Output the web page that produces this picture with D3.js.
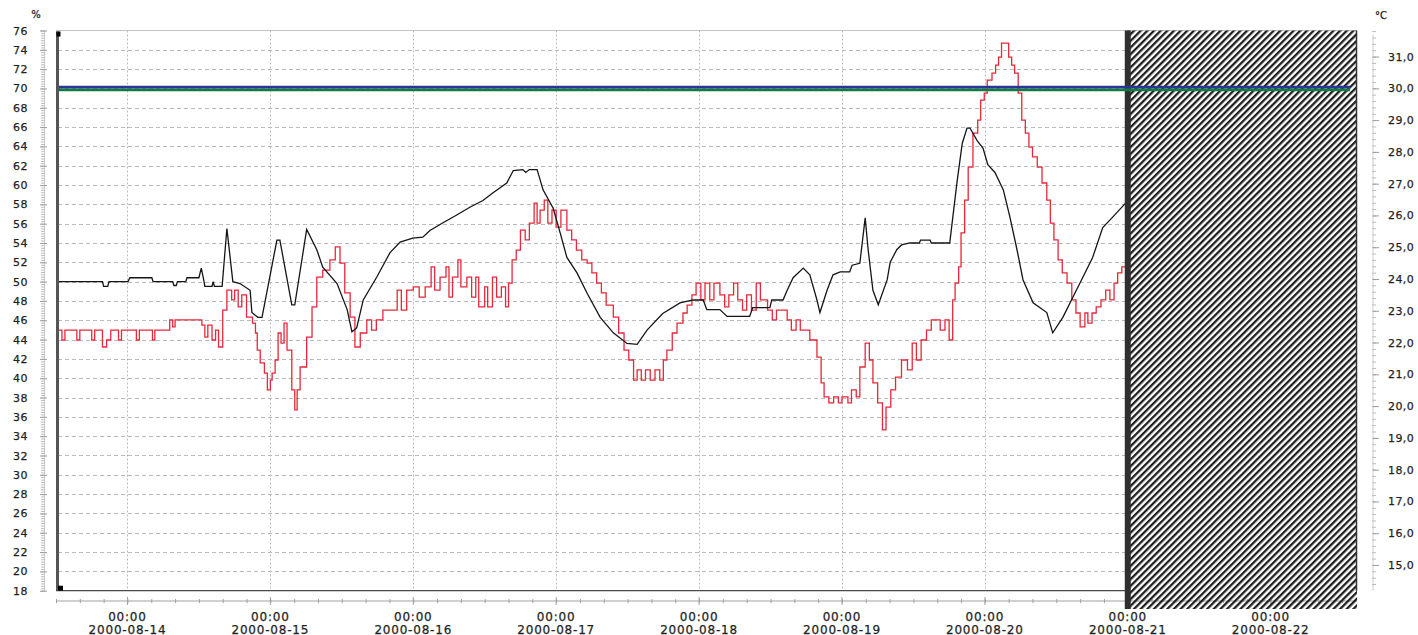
<!DOCTYPE html>
<html>
<head>
<meta charset="utf-8">
<script src="https://cdn.jsdelivr.net/npm/d3@7"></script>
<style>
  html, body { margin: 0; padding: 0; background: #fff; }
  svg { display: block; }
  text { font-family: "DejaVu Sans", "Liberation Sans", sans-serif; fill: #1f1f1f; stroke: #1f1f1f; stroke-width: 0.25px; }
</style>
</head>
<body>
<svg id="chart" width="1418" height="635"></svg>
<script>
// ---- data -------------------------------------------------------------
// days shown on the time axis (each tick is 00:00 of that day)
const dayLabels = ["2000-08-14", "2000-08-15", "2000-08-16", "2000-08-17", "2000-08-18",
                   "2000-08-19", "2000-08-20", "2000-08-21", "2000-08-22"];
const humidityTicks = [18, 20, 22, 24, 26, 28, 30, 32, 34, 36, 38, 40, 42, 44, 46, 48,
                       50, 52, 54, 56, 58, 60, 62, 64, 66, 68, 70, 72, 74, 76];
const temperatureTicks = [15, 16, 17, 18, 19, 20, 21, 22, 23, 24, 25, 26, 27, 28, 29, 30, 31];
const humidityLimit = 70;      // %
const temperatureLimit = 30;   // °C
const lastReading = "2000-08-21T00:00:00Z";

// relative humidity [hours after 2000-08-14 00:00, %]
const humidity = [
  [-11.6, 50.0], [-4.2, 50.0], [-4.0, 49.5], [-3.3, 49.5], [-3.1, 50.0], [0.1, 50.0], [0.4, 50.4],
  [4.1, 50.4], [4.3, 50.0], [7.6, 50.0], [7.8, 49.6], [8.2, 49.6], [8.4, 50.0], [9.8, 50.0],
  [10.0, 50.4], [12.0, 50.4], [12.4, 51.4], [12.8, 50.2], [13.0, 49.5], [14.2, 49.5], [14.4, 50.0],
  [14.6, 49.5], [15.9, 49.5], [16.7, 55.5], [17.7, 50.0], [18.9, 49.8], [20.6, 49.1], [20.9, 46.8],
  [21.9, 46.3], [22.6, 46.3], [25.1, 54.3], [25.6, 54.3], [27.6, 47.6], [28.1, 47.6], [30.1, 55.4],
  [31.8, 53.3], [32.8, 51.5], [35.2, 49.8], [36.9, 47.1], [37.7, 44.8], [38.5, 45.2], [39.6, 48.1],
  [41.9, 50.5], [44.1, 53.0], [45.8, 54.1], [47.9, 54.5], [49.6, 54.6], [50.8, 55.3], [53.0, 56.1],
  [55.3, 56.9], [57.5, 57.7], [59.7, 58.4], [61.4, 59.2], [63.7, 60.2], [64.8, 61.5], [66.4, 61.6],
  [66.9, 61.3], [67.5, 61.6], [68.8, 61.6], [69.8, 59.5], [71.5, 57.6], [72.7, 55.0], [73.8, 52.5],
  [75.5, 50.9], [77.2, 48.8], [79.4, 46.3], [81.6, 44.7], [83.9, 43.6], [85.6, 43.5], [87.3, 45.0],
  [89.9, 46.7], [92.8, 47.8], [95.0, 48.1], [96.7, 48.1], [97.3, 47.1], [99.5, 47.1], [100.7, 46.4],
  [104.5, 46.4], [105.0, 47.3], [107.9, 47.3], [108.2, 48.1], [110.1, 48.1], [110.8, 49.1],
  [111.8, 50.4], [113.5, 51.4], [114.6, 50.7], [115.8, 48.1], [116.3, 46.8], [117.5, 49.1],
  [118.5, 50.7], [119.7, 51.0], [121.3, 51.0], [121.7, 51.7], [123.0, 51.9], [123.9, 56.6],
  [124.4, 53.3], [125.2, 49.1], [126.1, 47.6], [127.6, 50.2], [128.1, 52.0], [129.2, 53.3],
  [130.0, 53.8], [131.4, 54.0], [133.0, 54.0], [133.2, 54.3], [134.8, 54.3], [135.0, 54.0],
  [138.1, 54.0], [139.3, 60.2], [140.2, 64.3], [141.0, 65.9], [141.5, 65.9], [142.7, 64.6],
  [143.7, 63.8], [144.5, 62.1], [145.7, 61.3], [147.1, 59.5], [148.2, 56.7], [149.4, 53.3],
  [150.4, 50.2], [152.1, 47.8], [154.4, 46.8], [155.4, 44.7], [157.1, 46.3], [158.8, 48.4],
  [160.5, 50.5], [162.1, 52.5], [163.8, 55.6], [165.5, 56.7], [167.6, 58.1]
];

// air temperature [hours after 2000-08-14 00:00, °C]
const temperature = [
  [-11.6, 22.39], [-11.0, 22.08], [-10.5, 22.39], [-8.5, 22.08], [-8.0, 22.39], [-6.0, 22.08],
  [-5.5, 22.39], [-4.2, 21.86], [-3.5, 22.08], [-2.8, 22.39], [-1.5, 22.08], [-1.0, 22.39],
  [1.5, 22.08], [2.0, 22.39], [4.2, 22.08], [4.6, 22.39], [7.1, 22.71], [7.6, 22.49], [8.0, 22.71],
  [12.5, 22.55], [13.0, 22.17], [13.5, 22.55], [14.2, 22.08], [14.8, 22.39], [15.3, 21.86],
  [16.0, 23.02], [16.7, 23.65], [17.5, 23.34], [18.0, 23.65], [18.6, 23.12], [19.2, 23.50],
  [20.0, 22.80], [21.0, 22.61], [21.5, 22.30], [21.8, 21.76], [22.3, 21.36], [23.0, 21.04],
  [23.5, 20.51], [24.0, 20.82], [24.3, 21.04], [24.8, 21.45], [25.3, 22.30], [25.8, 21.98],
  [26.3, 22.61], [26.8, 21.76], [27.6, 20.51], [28.1, 19.88], [28.5, 20.51], [29.0, 21.23],
  [30.1, 22.17], [31.0, 23.12], [31.8, 24.06], [32.8, 24.28], [34.0, 24.60], [34.9, 25.01],
  [35.7, 24.50], [36.5, 23.56], [37.4, 22.80], [38.2, 21.86], [39.1, 22.30], [40.2, 22.71],
  [41.0, 22.39], [41.8, 22.71], [42.9, 23.02], [45.3, 23.65], [46.0, 23.02], [46.9, 23.65],
  [48.0, 23.75], [49.0, 23.43], [50.0, 23.75], [51.0, 24.38], [51.6, 23.65], [52.5, 24.06],
  [53.5, 24.38], [54.0, 23.43], [54.6, 24.06], [55.5, 24.60], [56.0, 23.75], [57.0, 24.06],
  [57.8, 23.43], [58.5, 24.06], [59.0, 23.12], [60.0, 23.75], [60.5, 23.12], [61.3, 24.06],
  [62.0, 23.43], [62.8, 23.75], [63.5, 23.12], [64.0, 23.87], [64.6, 24.60], [65.3, 24.91],
  [66.0, 25.54], [66.8, 25.23], [67.5, 25.76], [68.3, 26.39], [68.8, 25.76], [69.3, 26.17],
  [70.0, 26.48], [70.6, 25.76], [71.3, 26.17], [72.0, 25.63], [72.8, 26.17], [73.8, 25.54],
  [74.6, 25.23], [75.4, 24.91], [76.3, 24.60], [77.2, 24.50], [78.0, 24.19], [78.8, 23.87],
  [79.6, 23.56], [80.4, 23.18], [81.6, 22.80], [82.5, 22.30], [83.4, 21.76], [84.2, 21.45],
  [85.0, 20.82], [85.6, 21.14], [86.3, 20.82], [87.0, 21.14], [87.8, 20.82], [88.6, 21.14],
  [89.4, 20.82], [90.0, 21.45], [90.6, 21.76], [91.5, 22.30], [92.3, 22.61], [93.3, 22.93],
  [94.0, 23.18], [94.8, 23.50], [95.5, 23.87], [96.3, 23.34], [97.0, 23.87], [97.8, 23.34],
  [98.5, 23.87], [99.5, 23.50], [100.3, 23.12], [101.0, 23.50], [101.8, 23.87], [102.5, 23.34],
  [103.3, 23.02], [104.0, 23.50], [104.8, 23.02], [105.6, 23.87], [106.3, 23.34], [107.5, 23.02],
  [108.3, 22.71], [109.0, 23.02], [110.8, 22.71], [111.5, 22.39], [112.3, 22.71], [113.0, 22.39],
  [114.6, 22.08], [115.8, 21.54], [116.5, 20.73], [117.0, 20.29], [117.8, 20.10], [118.6, 20.29],
  [119.4, 20.10], [120.0, 20.29], [121.0, 20.10], [121.6, 20.51], [122.4, 20.29], [123.0, 21.23],
  [123.9, 21.98], [124.6, 21.45], [125.2, 20.73], [126.0, 20.10], [126.8, 19.25], [127.4, 19.97],
  [128.2, 20.51], [129.0, 20.91], [130.0, 21.45], [131.0, 21.14], [131.8, 21.98], [132.5, 21.45],
  [133.3, 22.08], [134.2, 22.39], [135.0, 22.71], [136.5, 22.39], [137.3, 22.71], [138.0, 22.08],
  [138.6, 23.34], [139.0, 23.87], [139.6, 24.38], [140.0, 25.45], [140.6, 26.48], [141.2, 27.52],
  [142.0, 28.59], [142.8, 29.00], [143.3, 29.63], [143.9, 29.85], [144.4, 30.26], [145.2, 30.48],
  [145.8, 30.73], [146.3, 30.98], [146.8, 31.42], [148.0, 30.98], [148.5, 30.73], [149.0, 30.48],
  [149.6, 29.85], [150.2, 29.00], [150.8, 28.59], [151.4, 28.15], [152.0, 27.84], [152.8, 27.52],
  [153.6, 27.02], [154.4, 26.48], [155.0, 25.76], [155.6, 25.23], [156.3, 24.60], [157.0, 24.19],
  [157.8, 23.87], [158.6, 23.34], [159.3, 22.93], [160.0, 22.49], [160.8, 22.93], [161.3, 22.61],
  [162.0, 22.93], [162.7, 23.12], [163.5, 23.34], [164.3, 23.65], [165.0, 23.34], [165.7, 23.87],
  [166.3, 24.19], [167.0, 24.38], [167.6, 24.38]
];

// ---- layout -----------------------------------------------------------
const svg = d3.select("#chart");
const frame = { left: 56, right: 1357, top: 30.5, bottom: 590.7, axisY: 601, hatchBottom: 609 };
const t0 = Date.UTC(2000, 7, 14);
const toDate = h => new Date(t0 + h * 3600e3);
const parseDay = d3.utcParse("%Y-%m-%d");

const x = d3.scaleUtc()
  .domain([new Date(Date.UTC(2000, 7, 13, 12, 0)), new Date(Date.UTC(2000, 7, 22, 14, 30))])
  .range([frame.left, frame.right]);
const yHum = d3.scaleLinear().domain([18, 76]).range([frame.bottom, frame.top]);
const yTemp = d3.scaleLinear().domain([14.19, 31.82]).range([frame.bottom, frame.top]);

const nowX = x(new Date(lastReading));
const dayDates = dayLabels.map(parseDay);

// hatch pattern for the period without readings
const defs = svg.append("defs");
defs.append("pattern")
  .attr("id", "hatch").attr("patternUnits", "userSpaceOnUse")
  .attr("width", 4.7).attr("height", 4.7)
  .attr("patternTransform", "rotate(45)")
  .append("rect").attr("x", 0).attr("y", 0).attr("width", 2.3).attr("height", 4.7)
  .attr("fill", "#1e1e1e");

// horizontal grid
svg.append("g").selectAll("line")
  .data(humidityTicks.filter(v => v > 18 && v < 76))
  .join("line")
  .attr("x1", frame.left + 2).attr("x2", nowX)
  .attr("y1", d => Math.round(yHum(d)) + 0.5).attr("y2", d => Math.round(yHum(d)) + 0.5)
  .attr("stroke", "#b9b9b9").attr("stroke-width", 1).attr("stroke-dasharray", "4,3");

// vertical grid at midnight
svg.append("g").selectAll("line")
  .data(dayDates.filter(d => x(d) < nowX - 4))
  .join("line")
  .attr("x1", d => Math.round(x(d)) + 0.5).attr("x2", d => Math.round(x(d)) + 0.5)
  .attr("y1", frame.top).attr("y2", frame.bottom)
  .attr("stroke", "#bcbcbc").attr("stroke-width", 1).attr("stroke-dasharray", "2,2");

// frame lines
svg.append("line").attr("x1", frame.left).attr("x2", frame.right)
  .attr("y1", frame.top).attr("y2", frame.top).attr("stroke", "#c4c4c4");
svg.append("line").attr("x1", frame.left).attr("x2", nowX)
  .attr("y1", frame.bottom).attr("y2", frame.bottom).attr("stroke", "#4a4a4a").attr("stroke-width", 1.2);

// bottom time axis with 4-hour minor ticks
const axisG = svg.append("g").attr("transform", `translate(0,${frame.axisY})`);
axisG.call(d3.axisBottom(x).ticks(d3.utcHour.every(4)).tickSize(3).tickFormat(""));
axisG.select(".domain").attr("stroke", "#a0a0a0").attr("d", `M${frame.left},0H${frame.right}`);
axisG.selectAll(".tick line").attr("stroke", "#a0a0a0").attr("y1", -2).attr("y2", 2);
const dayTick = svg.append("g").selectAll("g").data(dayDates).join("g")
  .attr("transform", d => `translate(${x(d)},0)`);
dayTick.append("line").attr("y1", frame.axisY - 4).attr("y2", frame.axisY + 4).attr("stroke", "#a0a0a0");
dayTick.append("text").attr("y", 620.5).attr("text-anchor", "middle")
  .attr("font-size", 12).attr("letter-spacing", 0.8).text("00:00");
dayTick.append("text").attr("y", 633.5).attr("text-anchor", "middle")
  .attr("font-size", 12).attr("letter-spacing", 0.8).text((d, i) => dayLabels[i]);

// left humidity axis
const leftG = svg.append("g").attr("transform", "translate(44,0)");
leftG.call(d3.axisLeft(yHum).tickValues(d3.range(18, 76.01, 0.25)).tickSize(3).tickFormat(""));
leftG.select(".domain").attr("stroke", "#cfcfcf");
leftG.selectAll(".tick line").attr("stroke", "#bdbdbd").attr("x1", -3).attr("x2", 1);
leftG.append("g").call(d3.axisLeft(yHum).tickValues(humidityTicks).tickSize(6).tickPadding(10)
  .tickFormat(d => d))
  .call(g => g.select(".domain").remove())
  .call(g => g.selectAll(".tick line").attr("stroke", "#9d9d9d").attr("x1", -4).attr("x2", 3))
  .call(g => g.selectAll(".tick text").attr("font-size", 11).attr("letter-spacing", 0.5)
    .attr("fill", "#1f1f1f").attr("font-family", "DejaVu Sans"));
svg.append("text").attr("x", 36).attr("y", 18).attr("text-anchor", "middle")
  .attr("font-size", 10).text("%");

// right temperature axis
const rightG = svg.append("g").attr("transform", "translate(1373,0)");
rightG.call(d3.axisRight(yTemp).tickValues(d3.range(14.4, 31.81, 0.2)).tickSize(3).tickFormat(""));
rightG.select(".domain").attr("stroke", "#cfcfcf")
  .attr("d", `M0,${frame.top + 4}V${frame.bottom}`);
rightG.selectAll(".tick line").attr("stroke", "#bdbdbd").attr("x1", -1).attr("x2", 3);
rightG.append("g").call(d3.axisRight(yTemp).tickValues(temperatureTicks).tickSize(6).tickPadding(9)
  .tickFormat(d => d3.format(".1f")(d).replace(".", ",")))
  .call(g => g.select(".domain").remove())
  .call(g => g.selectAll(".tick line").attr("stroke", "#9d9d9d").attr("x1", 0).attr("x2", 6))
  .call(g => g.selectAll(".tick text").attr("font-size", 11).attr("letter-spacing", 0.4)
    .attr("fill", "#1f1f1f").attr("font-family", "DejaVu Sans"));
svg.append("text").attr("x", 1381).attr("y", 19).attr("text-anchor", "middle")
  .attr("font-size", 10).text("°C");

// region after the last reading
svg.append("rect").attr("x", nowX).attr("y", frame.top)
  .attr("width", frame.right - nowX).attr("height", frame.hatchBottom - frame.top)
  .attr("fill", "url(#hatch)");
svg.append("line").attr("x1", frame.right - 0.5).attr("x2", frame.right - 0.5)
  .attr("y1", frame.top).attr("y2", frame.bottom).attr("stroke", "#333").attr("stroke-width", 1.5);

// measured series
const lineHum = d3.line().x(d => x(toDate(d[0]))).y(d => yHum(d[1]));
const lineTemp = d3.line().x(d => x(toDate(d[0]))).y(d => yTemp(d[1])).curve(d3.curveStepAfter);

svg.append("path").datum(temperature).attr("d", lineTemp)
  .attr("fill", "none").attr("stroke", "#e5283b").attr("stroke-width", 1.3)
  .attr("stroke-linejoin", "miter");
svg.append("path").datum(humidity).attr("d", lineHum)
  .attr("fill", "none").attr("stroke", "#151515").attr("stroke-width", 1.3);

// marker of the last reading
svg.append("rect").attr("x", nowX - 3).attr("y", frame.top)
  .attr("width", 6).attr("height", frame.hatchBottom - frame.top).attr("fill", "#2f2f2f");

// cursor bar at the start of the record
svg.append("rect").attr("x", frame.left).attr("y", frame.top + 1)
  .attr("width", 3).attr("height", frame.bottom - frame.top - 1).attr("fill", "#555");
svg.append("rect").attr("x", frame.left + 0.5).attr("y", frame.top + 1)
  .attr("width", 4).attr("height", 5).attr("fill", "#000");
svg.append("rect").attr("x", frame.left + 2).attr("y", frame.bottom - 5)
  .attr("width", 5).attr("height", 5).attr("fill", "#000");

// limit lines (humidity limit on the left axis, temperature limit on the right axis)
svg.append("line").attr("x1", frame.left + 3).attr("x2", frame.right - 7)
  .attr("y1", yHum(humidityLimit) - 1.3).attr("y2", yHum(humidityLimit) - 1.3)
  .attr("stroke", "#2b3595").attr("stroke-width", 2.6);
svg.append("line").attr("x1", frame.left + 3).attr("x2", frame.right - 7)
  .attr("y1", yTemp(temperatureLimit) + 1.5).attr("y2", yTemp(temperatureLimit) + 1.5)
  .attr("stroke", "#137a45").attr("stroke-width", 2.6);
</script>
</body>
</html>
